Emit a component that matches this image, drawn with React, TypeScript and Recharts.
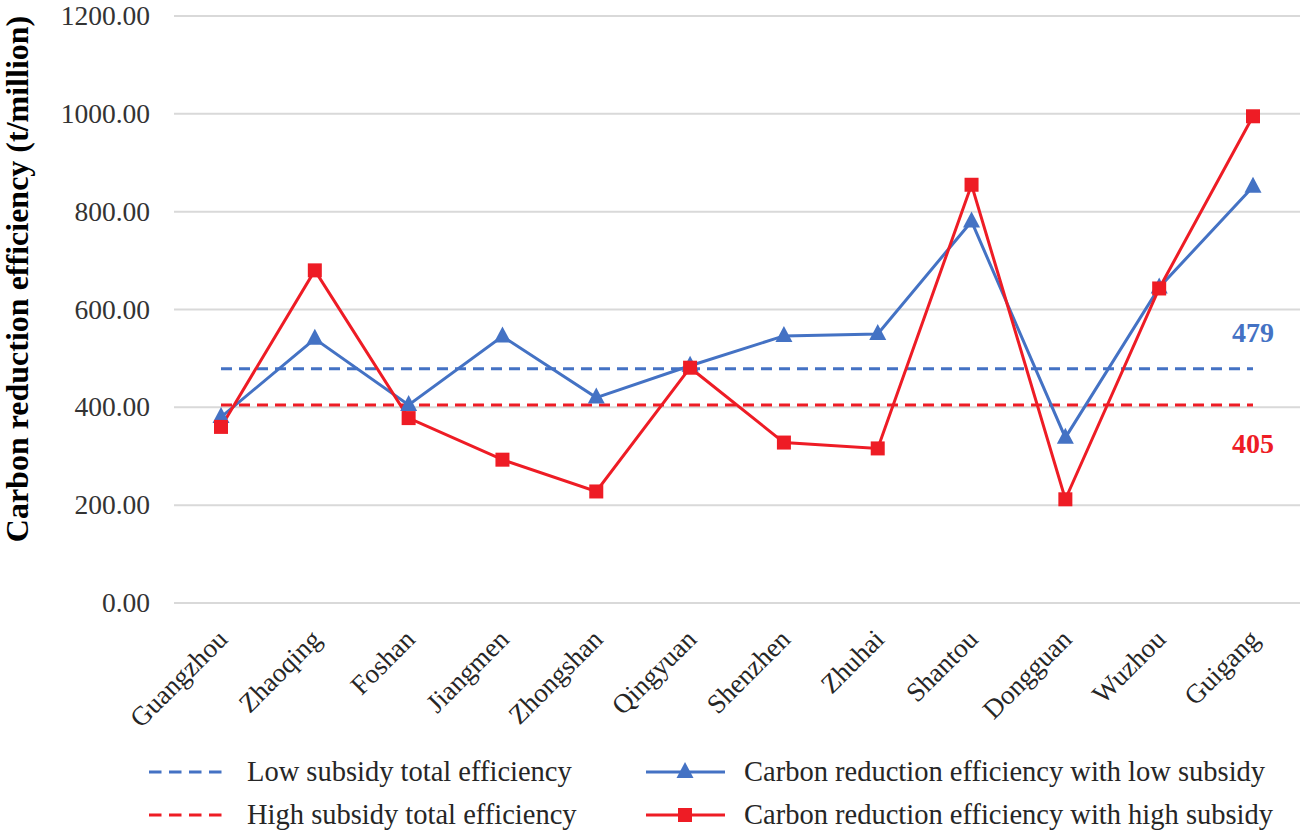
import React from 'react';
import { LineChart, Line, XAxis, YAxis, CartesianGrid, Legend, LabelList } from 'recharts';

const cities = ['Guangzhou', 'Zhaoqing', 'Foshan', 'Jiangmen', 'Zhongshan', 'Qingyuan', 'Shenzhen', 'Zhuhai', 'Shantou', 'Dongguan', 'Wuzhou', 'Guigang'];
const lowSubsidy = [380, 540, 405, 545, 420, 485, 546, 550, 780, 338, 645, 851];
const highSubsidy = [360, 680, 378, 293, 228, 481, 328, 316, 855, 212, 643, 995];
const lowTotal = [479, 479, 479, 479, 479, 479, 479, 479, 479, 479, 479, 479];
const highTotal = [405, 405, 405, 405, 405, 405, 405, 405, 405, 405, 405, 405];
const yTicks = [0, 200, 400, 600, 800, 1000, 1200];

const BLUE = '#4472C4';
const RED = '#EE1C25';
const FONT = '"Liberation Serif", "Times New Roman", serif';

const data = cities.map((c, i) => ({
  city: c,
  low: lowSubsidy[i],
  high: highSubsidy[i],
  lowTotal: lowTotal[i],
  highTotal: highTotal[i],
}));

const Triangle = (props: any) => {
  const { cx, cy, index } = props;
  if (cx == null || cy == null) return null;
  return <polygon key={`t${index}`} points={`${cx},${cy - 10} ${cx - 8.5},${cy + 6} ${cx + 8.5},${cy + 6}`} fill={BLUE} />;
};

const Square = (props: any) => {
  const { cx, cy, index } = props;
  if (cx == null || cy == null) return null;
  return <rect key={`s${index}`} x={cx - 7} y={cy - 7} width={14} height={14} fill={RED} />;
};

const XTick = (props: any) => {
  const { x, y, payload } = props;
  const tx = x + 8;
  const ty = y + 30;
  return (
    <text x={tx} y={ty} transform={`rotate(-45, ${tx}, ${ty})`} textAnchor="end" fontFamily={FONT} fontSize={27} fill="#262626">
      {payload.value}
    </text>
  );
};

const YTick = (props: any) => {
  const { x, y, payload } = props;
  return (
    <text x={x} y={y} dy={9} textAnchor="end" fontFamily={FONT} fontSize={27.5} fill="#333">
      {Number(payload.value).toFixed(2)}
    </text>
  );
};

const endLabel = (color: string, dy: number, text: string) => (props: any) => {
  const { x, y, index } = props;
  if (index !== cities.length - 1) return null;
  return (
    <text x={x} y={y + dy} textAnchor="middle" fontFamily={FONT} fontSize={28} fontWeight="bold" fill={color}>
      {text}
    </text>
  );
};

const LegendContent = () => {
  const item = (left: number, top: number, color: string, dashed: boolean, marker: 'tri' | 'sq' | null, label: string) => (
    <div style={{ position: 'absolute', left, top, display: 'flex', alignItems: 'center', height: 30 }}>
      <svg width={82} height={30} style={{ display: 'block' }}>
        <line x1={1} y1={15} x2={80} y2={15} stroke={color} strokeWidth={3} strokeDasharray={dashed ? '12.5 7.5' : undefined} />
        {marker === 'tri' && <polygon points={`40,5 31.5,21 48.5,21`} fill={color} />}
        {marker === 'sq' && <rect x={33} y={8} width={14} height={14} fill={color} />}
      </svg>
      <span style={{ marginLeft: 17, fontFamily: FONT, fontSize: 28.5, color: '#262626', whiteSpace: 'nowrap', lineHeight: '30px' }}>{label}</span>
    </div>
  );
  return (
    <div style={{ position: 'relative', width: 1300, height: 80 }}>
      {item(148, 0, BLUE, true, null, 'Low subsidy total efficiency')}
      {item(645, 0, BLUE, false, 'tri', 'Carbon reduction efficiency with low subsidy')}
      {item(148, 43, RED, true, null, 'High subsidy total efficiency')}
      {item(645, 43, RED, false, 'sq', 'Carbon reduction efficiency with high subsidy')}
    </div>
  );
};

const YLabel = () => (
  <text x={28} y={279} transform="rotate(-90, 28, 279)" textAnchor="middle" fontFamily={FONT} fontSize={32} fontWeight="bold" fill="#000">
    Carbon reduction efficiency (t/million)
  </text>
);

export default function App() {
  return (
    <div style={{ position: 'absolute', left: 0, top: 0, width: 1300, height: 833, background: '#fff' }}>
      <LineChart width={1300} height={833} data={data} margin={{ top: 16, right: 0, left: 0, bottom: 0 }}>
        <CartesianGrid vertical={false} stroke="#D9D9D9" strokeWidth={2} />
        <XAxis
          dataKey="city"
          interval={0}
          height={230}
          axisLine={false}
          tickLine={false}
          padding={{ left: 47, right: 47 }}
          tick={<XTick />}
        />
        <YAxis
          width={174}
          domain={[0, 1200]}
          ticks={yTicks}
          axisLine={false}
          tickLine={false}
          tickSize={0}
          tickMargin={24}
          tick={<YTick />}
        />
        <Legend verticalAlign="middle" layout="horizontal" wrapperStyle={{ top: 757, left: 0, width: 1300 }} content={<LegendContent />} />
        <Line dataKey="lowTotal" stroke={BLUE} strokeWidth={3} strokeDasharray="11 7" dot={false} activeDot={false} isAnimationActive={false}>
          <LabelList dataKey="lowTotal" content={endLabel(BLUE, -27, '479')} />
        </Line>
        <Line dataKey="highTotal" stroke={RED} strokeWidth={3} strokeDasharray="11 7" dot={false} activeDot={false} isAnimationActive={false}>
          <LabelList dataKey="highTotal" content={endLabel(RED, 48, '405')} />
        </Line>
        <Line dataKey="low" stroke={BLUE} strokeWidth={3} dot={<Triangle />} activeDot={false} isAnimationActive={false} />
        <Line dataKey="high" stroke={RED} strokeWidth={3} dot={<Square />} activeDot={false} isAnimationActive={false} />
        <YLabel />
      </LineChart>
    </div>
  );
}
